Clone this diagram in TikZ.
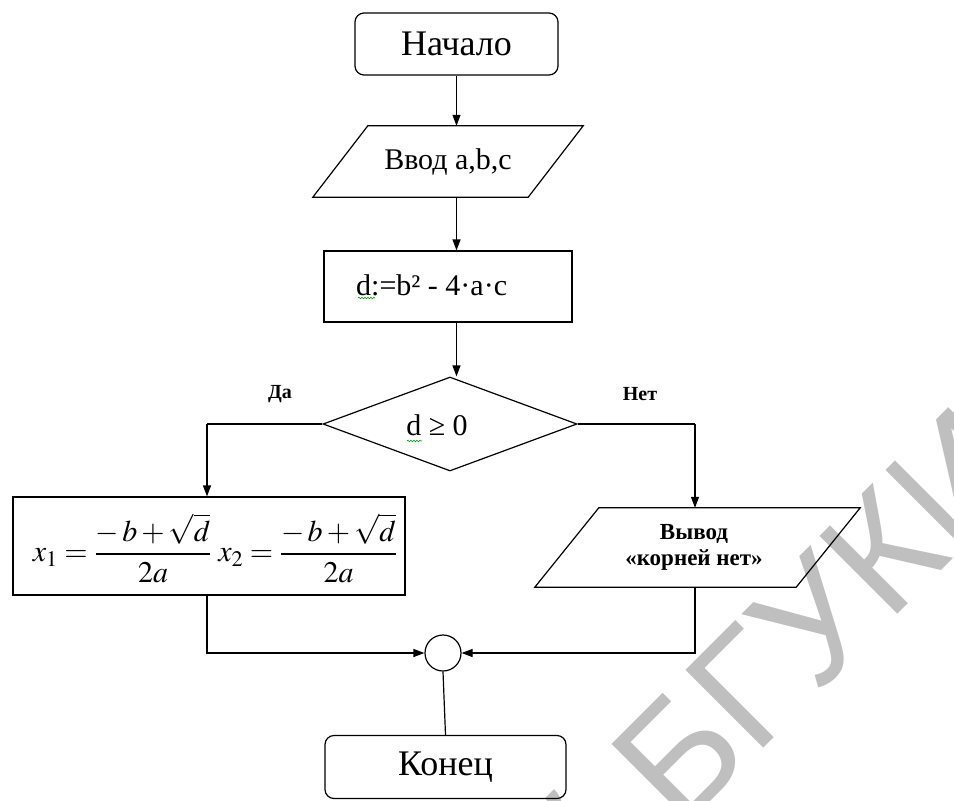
\documentclass[tikz,border=0pt]{standalone}
\usepackage{mathptmx}
\usepackage[no-math]{fontspec}
\setmainfont{Liberation Serif}
\newfontfamily\wmfont{Liberation Sans}
\usetikzlibrary{arrows.meta,shapes.geometric,calc,decorations.pathmorphing}
\begin{document}
\begin{tikzpicture}[x=1pt,y=-1pt,
  line/.style={line width=1.2pt},
  arr/.style={line, -{Triangle[length=11pt,width=8pt]}},
  box/.style={draw, line width=1.2pt, rectangle, inner sep=0pt},
  termbox/.style={draw, line width=1.2pt, rectangle, rounded corners=9pt, inner sep=0pt, font=\fontsize{36}{42}\selectfont},
  ghost/.style={rectangle, inner sep=0pt},
  txt/.style={inner sep=0pt, font=\fontsize{30}{36}\selectfont},
  lbl/.style={inner sep=0pt, font=\bfseries\fontsize{20}{24}\selectfont},
  squiggle/.style={draw=green!60!black, line width=0.6pt, decorate, decoration={snake, amplitude=0.8pt, segment length=3pt}},
  wm/.style={inner sep=0pt, text=black!25, font=\wmfont\fontsize{160}{160}\selectfont}
]
\useasboundingbox (0,0) rectangle (954,801);
% watermark
\node[wm, rotate=45, anchor=base west] (wmark) at (586,926) {й БГУКИ};
% start
\node[termbox, minimum width=203pt, minimum height=62pt] (start) at (456.5,44) {Начало};
% input
\node[ghost, txt, minimum width=270pt, minimum height=71pt] (in) at (448,161.5) {Ввод a,b,c};
\draw[line] (in.south west) -- ($(in.north west)+(55,0)$) -- (in.north east) -- ($(in.south east)+(-55,0)$) -- cycle;
% calculation
\node[box, minimum width=248pt, minimum height=71pt] (calc) at (448,286.5) {};
\node[txt, anchor=west] (calctext) at (356,285) {d:=b² - 4·a·c};
\draw[squiggle] (358,298) -- (375,298);
% decision
\node[draw, diamond, line width=1.2pt, minimum width=254pt, minimum height=94pt, inner sep=0pt] (dec) at (450,424) {};
\node[txt] (dectext) at (437,425) {d ≥ 0};
\draw[squiggle] (407,441) -- (422,441);
\node[lbl] (yes) at (280,394) {Да};
\node[lbl] (no) at (640,394) {Нет};
% formula box
\node[box, minimum width=392pt, minimum height=98pt] (fx) at (209,546) {};
\node[inner sep=0pt, font=\fontsize{30}{34}\selectfont] (fxtext) at (215,548)
  {$\displaystyle x_1=\frac{-\,b+\sqrt{d}}{2a}\;x_2=\frac{-\,b+\sqrt{d}}{2a}$};
% output
\node[ghost, minimum width=325pt, minimum height=79pt] (out) at (697.5,547.5) {};
\draw[line] (out.south west) -- ($(out.north west)+(64,0)$) -- (out.north east) -- ($(out.south east)+(-64,0)$) -- cycle;
\node[inner sep=0pt, align=center, font=\bfseries\fontsize{23}{26}\selectfont] (outtext) at (694,547) {Вывод\\«корней нет»};
% join and end
\node[circle, draw, line width=1.2pt, minimum size=36pt, inner sep=0pt] (join) at (443,653) {};
\node[termbox, minimum width=241pt, minimum height=63pt] (end) at (445.5,767) {Конец};
\coordinate (lb) at (207,424);
\coordinate (rb) at (695,424);
% connectors
\draw[arr] (start.south) -- (start.south |- in.north);
\draw[arr] (start.south |- in.south) -- (start.south |- calc.north);
\draw[arr] (start.south |- calc.south) -- (start.south |- dec.north);
\draw[line] (dec.west) -- (lb);
\draw[arr] (lb) -- (lb |- fx.north);
\draw[line] (dec.east) -- (rb);
\draw[arr] (rb) -- (rb |- out.north);
\draw[arr] (lb |- fx.south) |- (join.west);
\draw[arr] (rb |- out.south) |- (join.east);
\draw[line] (join.south) -- (end.north);
\end{tikzpicture}
\end{document}
